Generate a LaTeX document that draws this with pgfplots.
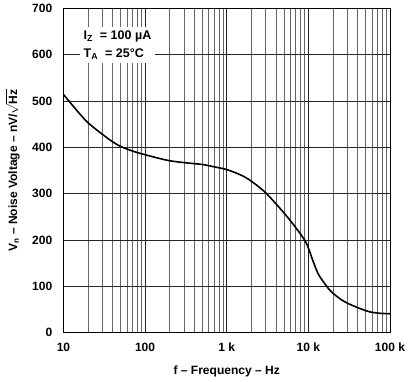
\documentclass[border=0pt]{standalone}
\usepackage{fontspec}
\setmainfont{Liberation Sans}
\usepackage{amsmath}
\usepackage{pgfplots}
\pgfplotsset{compat=1.18}
\begin{document}
\fontsize{12}{14}\selectfont\bfseries
\begin{tikzpicture}
\begin{axis}[
  scale only axis, width=326pt, height=324pt,
  xmode=log, xmin=10, xmax=100000, ymin=0, ymax=700,
  log basis x=10,
  xtick={10,100,1000,10000,100000},
  xticklabels={10,100,1 k,10 k,100 k},
  ytick={0,100,...,700},
  minor xtick={20,30,40,50,60,70,80,90,200,300,400,500,600,700,800,900,2000,3000,4000,5000,6000,7000,8000,9000,20000,30000,40000,50000,60000,70000,80000,90000},
  grid=both,
  major grid style={black!85, line width=0.5pt},
  minor grid style={black!60, line width=0.5pt},
  axis line style={black, line width=0.9pt},
  major tick length=0pt, minor tick length=0pt,
  /pgf/number format/assume math mode=true,
  tick label style={font=\fontsize{12}{14}\selectfont\bfseries},
  xticklabel style={yshift=-6pt},
  yticklabel style={xshift=-7pt},
  label style={font=\fontsize{12}{14}\selectfont\bfseries},
  xlabel={f -- Frequency -- Hz},
  ylabel={V$_\text{n}$ -- Noise Voltage -- nV/$\sqrt{\text{Hz}}$},
  every axis x label/.style={at={(axis description cs:0.5,-0.12)}, anchor=center},
  every axis y label/.style={at={(axis description cs:-0.155,0.5)}, rotate=90, anchor=center},
]
\addplot[black, line width=1.6pt, smooth, tension=0.5] coordinates {
(10,514) (15,477) (20,453) (30,428) (40,412) (50,402) (70,392) (100,384) (150,376) (200,371) (300,367) (500,363) (700,358) (1000,352) (1500,340) (2000,327) (3000,302) (5000,259) (7000,227) (9000,200) (10000,183) (11500,153) (13200,127) (15000,112) (17000,99) (19000,89) (25000,72) (33500,60) (54000,46) (75000,42) (100000,41)
};
\node[fill=white, inner sep=4pt, align=left, anchor=north west, font=\fontsize{12.5}{13}\selectfont\bfseries] at (axis cs:15.7,661)
  {I$_\text{Z}$\ \ = 100 \textmu A\\[5pt] T$_\text{A}$\ \ = 25\textdegree C};
\end{axis}
\path ([xshift=-2pt]current bounding box.west);
\end{tikzpicture}
\end{document}
